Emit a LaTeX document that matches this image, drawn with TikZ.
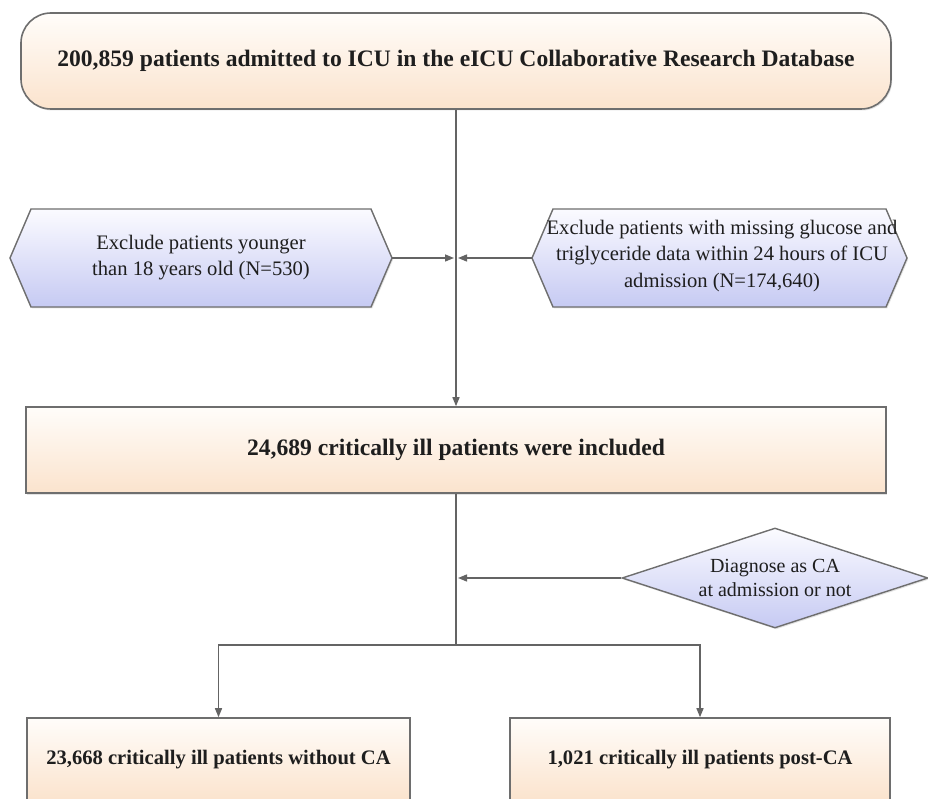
\documentclass[tikz,border=0pt]{standalone}
\usepackage{fontspec}
\setmainfont{Liberation Serif}
\usetikzlibrary{arrows.meta,shapes.geometric,shadows}
\definecolor{linegray}{HTML}{646464}
\definecolor{bordergray}{HTML}{6E6E6E}
\definecolor{peachtop}{HTML}{FFFDFA}
\definecolor{peachbot}{HTML}{FBE3CD}
\definecolor{bluetop}{HTML}{FBFBFF}
\definecolor{bluebot}{HTML}{C6CAF3}
\definecolor{textdark}{HTML}{1E1E1E}
\tikzset{
  shadowed/.style={drop shadow={shadow xshift=1.2pt, shadow yshift=-1.5pt, opacity=0.22}},
  peachbox/.style={draw=bordergray, line width=1.6pt, top color=peachtop, bottom color=peachbot,
    shadowed, inner sep=0pt, text=textdark},
  bluebox/.style={draw=bordergray, line width=1.4pt, top color=bluetop, bottom color=bluebot,
    shadowed},
  boldtext/.style={font=\fontsize{23.6}{28}\selectfont\bfseries},
  smallbold/.style={font=\fontsize{20.6}{25}\selectfont\bfseries},
  hextext/.style={align=center, inner sep=0pt, text=textdark},
  conn/.style={draw=linegray, line width=1.4pt},
  arr/.style={conn, -{Triangle[length=9pt,width=7pt]}},
  thickconn/.style={draw=linegray, line width=2.3pt},
}
\begin{document}
\begin{tikzpicture}[x=1pt,y=-1pt]
\clip (0,0) rectangle (928,799);
\fill[white] (0,0) rectangle (928,799);

% top box
\node[peachbox, boldtext, rounded corners=30pt, minimum width=870pt, minimum height=96pt]
  (top) at (456,61) {200,859 patients admitted to ICU in the eICU Collaborative Research Database};

% left hexagon
\path[bluebox] (10,258) -- (31,209) -- (371,209) -- (392,258) -- (371,307) -- (31,307) -- cycle;
\node[hextext, font=\fontsize{20.6}{26}\selectfont] (lx) at (201,258)
  {Exclude patients younger\\than 18 years old (N=530)};
\coordinate (lxtip) at (392,258);

% right hexagon
\path[bluebox] (532,258) -- (553,209) -- (886,209) -- (907,258) -- (886,307) -- (553,307) -- cycle;
\node[hextext, font=\fontsize{20.6}{26.5}\selectfont] (rx) at (722,256)
  {Exclude patients with missing glucose and\\triglyceride data within 24 hours of ICU\\admission (N=174,640)};
\coordinate (rxtip) at (532,258);

% middle box
\node[peachbox, boldtext, minimum width=860pt, minimum height=86pt]
  (mid) at (456,450) {24,689 critically ill patients were included};

% diamond
\node[diamond, bluebox, aspect=3.06, inner sep=0pt, minimum width=306pt, minimum height=100pt,
  align=center, text=textdark, font=\fontsize{20}{24.5}\selectfont]
  (dia) at (775,578) {Diagnose as CA\\at admission or not};

% bottom boxes
\node[peachbox, smallbold, minimum width=383pt, minimum height=83pt]
  (bl) at (218.5,759.5) {23,668 critically ill patients without CA};
\node[peachbox, smallbold, minimum width=380pt, minimum height=83pt]
  (br) at (700,759.5) {1,021 critically ill patients post-CA};

% junction coordinates
\coordinate (jl) at (454,258);
\coordinate (jr) at (458,258);
\coordinate (jd) at (458,578);
\coordinate (split) at (456,645);

% connectors
\draw[arr] (top.south) -- (mid.north);
\draw[arr] (lxtip) -- (jl);
\draw[arr] (rxtip) -- (jr);
\draw[thickconn] (mid.south) -- (split);
\draw[arr] (dia.west) -- (jd);
\draw[arr] (split) -| (bl.north);
\draw[arr] (split) -| (br.north);
\end{tikzpicture}
\end{document}
